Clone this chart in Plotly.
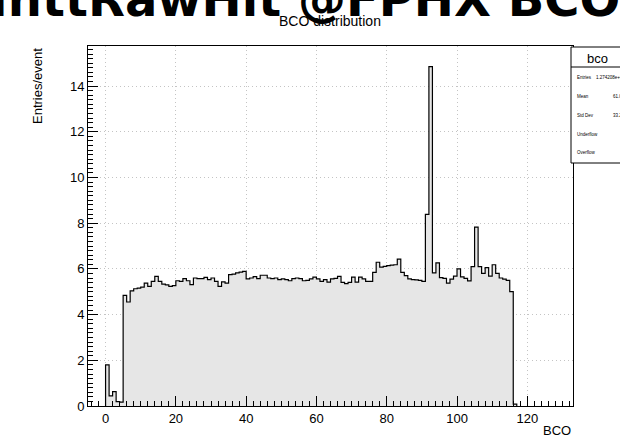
import plotly.graph_objects as go

# ---- data ----
bco_bins = list(range(117))  # lower bin edges, bin width 1
entries_per_event = [
    1.80, 0.44, 0.63, 0.19, 0.17, 4.84, 4.55, 5.04, 5.13, 5.16,
    5.20, 5.38, 5.23, 5.45, 5.67, 5.45, 5.33, 5.30, 5.23, 5.27,
    5.48, 5.45, 5.57, 5.48, 5.31, 5.60, 5.57, 5.57, 5.63, 5.53,
    5.60, 5.45, 5.23, 5.43, 5.38, 5.75, 5.77, 5.82, 5.86, 5.89,
    5.56, 5.60, 5.66, 5.57, 5.72, 5.72, 5.60, 5.57, 5.60, 5.53,
    5.56, 5.53, 5.48, 5.57, 5.60, 5.57, 5.48, 5.50, 5.56, 5.64,
    5.56, 5.45, 5.53, 5.42, 5.56, 5.58, 5.67, 5.41, 5.35, 5.41,
    5.64, 5.42, 5.64, 5.56, 5.45, 5.45, 5.85, 6.29, 6.08, 6.11,
    6.14, 6.16, 6.18, 6.43, 5.85, 5.70, 5.56, 5.53, 5.52, 5.50,
    5.45, 8.38, 14.85, 5.82, 6.26, 5.62, 5.58, 5.38, 5.55, 5.68,
    6.00, 5.65, 5.58, 5.47, 6.10, 7.83, 6.10, 5.80, 6.05, 5.68,
    6.18, 5.80, 5.60, 5.55, 5.50, 5.00, 0.08,
]
x_ticks = [0, 20, 40, 60, 80, 100, 120]
y_ticks = [0, 2, 4, 6, 8, 10, 12, 14]
stat_labels = ["Entries", "Mean", "Std Dev", "Underflow", "Overflow"]
stat_values = ["1.274208e+06", "61.05", "33.28", "0", "0"]

FONT = "Liberation Sans, Arial, Helvetica, sans-serif"
BIG_FONT = "DejaVu Sans, Liberation Sans, sans-serif"

# step outline through bin edges
xs = [bco_bins[0]] + bco_bins + [bco_bins[-1] + 1]
ys = [0] + entries_per_event + [0]

fig = go.Figure()
fig.add_trace(go.Scatter(
    x=xs, y=ys, mode="lines", line=dict(shape="hv", color="#000000", width=1.2),
    fill="tozeroy", fillcolor="#e6e6e6", hoverinfo="skip", showlegend=False,
))

L, R, T, B = 88, 47, 46, 36
W, H = 620, 442
pw, ph = W - L - R, H - T - B


def px(xp):
    return (xp - L) / pw


def py(yp):
    return (H - B - yp) / ph


axis_common = dict(
    showline=True, linecolor="black", linewidth=1, mirror=True,
    ticks="inside", ticklen=10, tickcolor="black", tickwidth=1,
    showgrid=True, gridcolor="#c4c4c4", griddash="1px,3px", gridwidth=1,
    zeroline=False,
    tickfont=dict(family=FONT, size=13, color="black"),
)

fig.update_xaxes(
    range=[-5, 133], tickvals=x_ticks,
    minor=dict(ticks="inside", ticklen=5, dtick=2, tick0=0, tickcolor="black", showgrid=False),
    **axis_common,
)
fig.update_yaxes(
    range=[0, 15.75], tickvals=y_ticks,
    minor=dict(ticks="inside", ticklen=5, dtick=0.2, tick0=0, tickcolor="black", showgrid=False),
    **axis_common,
)

annotations = [
    dict(text="<b>InttRawHit @FPHX BCO</b>", x=px(-12), y=py(29), xanchor="left", yanchor="bottom",
         font=dict(family=BIG_FONT, size=48, color="black", weight="bold")),
    dict(text="BCO distribution", x=px(330), y=py(21), xanchor="center", yanchor="middle",
         font=dict(family=FONT, size=14, color="black")),
    dict(text="BCO", x=1.0, y=py(430), xanchor="right", yanchor="middle",
         font=dict(family=FONT, size=13, color="black")),
    dict(text="Entries/event", x=px(37), y=1.0, xanchor="center", yanchor="top", textangle=-90,
         font=dict(family=FONT, size=13, color="black")),
    dict(text="bco", x=px(597), y=py(58.5), xanchor="center", yanchor="middle",
         font=dict(family=FONT, size=13, color="black")),
]
row_y = [77.7, 96.7, 115.3, 134.3, 152.7]
for lab, val, yy in zip(stat_labels, stat_values, row_y):
    annotations.append(dict(text=lab, x=px(575), y=py(yy), xanchor="left", yanchor="middle",
                            font=dict(family=FONT, size=4.5, color="black")))
    annotations.append(dict(text=val, x=px(627), y=py(yy), xanchor="right", yanchor="middle",
                            font=dict(family=FONT, size=4.5, color="black")))
for a in annotations:
    a.update(xref="paper", yref="paper", showarrow=False)

shapes = [
    dict(type="rect", xref="paper", yref="paper", x0=px(571), x1=px(640), y0=py(163), y1=py(47),
         line=dict(color="black", width=1), fillcolor="white", layer="above"),
    dict(type="line", xref="paper", yref="paper", x0=px(571), x1=px(640), y0=py(67), y1=py(67),
         line=dict(color="black", width=1), layer="above"),
]

fig.update_layout(
    width=W, height=H, margin=dict(l=L, r=R, t=T, b=B),
    paper_bgcolor="white", plot_bgcolor="white",
    annotations=annotations, shapes=shapes,
    font=dict(family=FONT, color="black"),
)

fig.write_html("out.html")
